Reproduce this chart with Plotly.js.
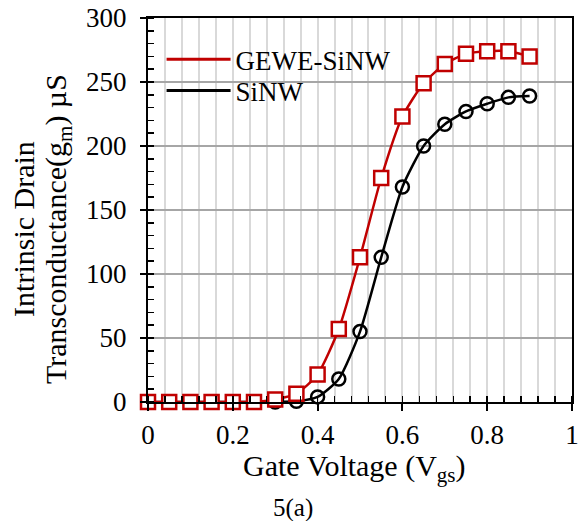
<!DOCTYPE html>
<html>
<head>
<meta charset="utf-8">
<script src="https://cdn.plot.ly/plotly-3.0.1.min.js"></script>
<style>html,body{margin:0;padding:0;background:#fff;}#chart{width:580px;height:521px;}</style>
</head>
<body>
<div id="chart"></div>
<script>
const vgs = [0,0.05,0.1,0.15,0.2,0.25,0.3,0.35,0.4,0.45,0.5,0.55,0.6,0.65,0.7,0.75,0.8,0.85,0.9];
const gewe = [0,0,0,0,0,0,2,6.5,21.5,57,113,175,223,249,264,272,274,274,270];
const sinw = [0,0,0,0,0,0,0,0.5,4,18,55,113,168,200,217,227,233,238,239];
const seriesNames = ["GEWE-SiNW","SiNW"];
const xTicks = [0,0.2,0.4,0.6,0.8,1];
const yTicks = [0,50,100,150,200,250,300];

const red = "#c00000", black = "#000000";
const font = "Liberation Serif, Times New Roman, serif";

const traces = [
  {x: vgs, y: sinw, mode: "lines+markers", line:{color:black,width:2.5,shape:"spline",smoothing:0.6},
   marker:{symbol:"circle-open",size:13,color:black,line:{width:2.5}}, showlegend:false,
   cliponaxis:false},
  {x: vgs, y: gewe, mode: "lines+markers", line:{color:red,width:2.5,shape:"spline",smoothing:0.6},
   marker:{symbol:"square",size:14,color:"#ffffff",line:{color:red,width:2.5}}, showlegend:false,
   cliponaxis:false},
  {x:[null], y:[null], mode:"lines", name: seriesNames[0], line:{color:red,width:3}, legend:"legend"},
  {x:[null], y:[null], mode:"lines", name: seriesNames[1], line:{color:black,width:3}, legend:"legend2"}
];

const legendBase = {xanchor:"left", yanchor:"top", bgcolor:"rgba(0,0,0,0)",
  font:{family:font,size:27,color:"#000"}, itemwidth:64, tracegroupgap:0};

const layout = {
  width:580, height:521,
  margin:{l:148, r:8, t:18, b:119},
  paper_bgcolor:"#fff", plot_bgcolor:"#fff",
  font:{family:font, size:27, color:"#000"},
  showlegend:true,
  legend:Object.assign({x:0.032, y:0.955}, legendBase),
  legend2:Object.assign({x:0.032, y:0.874}, legendBase),
  xaxis:{range:[0,1], tickmode:"array", tickvals:xTicks, ticktext:xTicks.map(String),
         showline:true, linecolor:"#000", linewidth:2, mirror:true,
         ticks:"outside", ticklen:7, tickwidth:2, tickcolor:"#000",
         showgrid:true, gridcolor:"#d9d9d9", gridwidth:2, zeroline:false,
         minor:{dtick:0.04, tick0:0, ticks:"inside", ticklen:6, tickwidth:1.5, tickcolor:"#000", showgrid:true, gridcolor:"#d9d9d9", gridwidth:2},
         tickfont:{family:font,size:27}, ticklabelstandoff:1},
  yaxis:{range:[0,300], tickmode:"array", tickvals:yTicks, ticktext:yTicks.map(String),
         showline:true, linecolor:"#000", linewidth:2, mirror:true,
         ticks:"outside", ticklen:6, tickwidth:2, tickcolor:"#000",
         showgrid:true, gridcolor:"#a6a6a6", gridwidth:2, zeroline:false,
         minor:{dtick:10, tick0:0, ticks:"inside", ticklen:6, tickwidth:1.5, tickcolor:"#000", showgrid:false},
         tickfont:{family:font,size:27}, ticklabelstandoff:8},
  annotations:[
    {text:"Intrinsic Drain", textangle:-90, xref:"paper", yref:"paper", x:-0.295, y:0.4505,
     xanchor:"center", yanchor:"middle", showarrow:false, font:{family:font,size:30,color:"#000"}},
    {text:"Transconductance(g<sub>m</sub>) µS", textangle:-90, xref:"paper", yref:"paper", x:-0.212, y:0.4505,
     xanchor:"center", yanchor:"middle", showarrow:false, font:{family:font,size:30,color:"#000"}},
    {text:"Gate Voltage (V<sub>gs</sub>)", xref:"paper", yref:"paper", x:0.486, y:-0.172,
     xanchor:"center", yanchor:"middle", showarrow:false, font:{family:font,size:30,color:"#000"}},
    {text:"5(a)", xref:"paper", yref:"paper", x:0.342, y:-0.276, xanchor:"center", yanchor:"middle",
     showarrow:false, font:{family:font,size:25,color:"#000"}}
  ]
};

Plotly.newPlot("chart", traces, layout, {displayModeBar:false, staticPlot:true});
</script>
</body>
</html>
